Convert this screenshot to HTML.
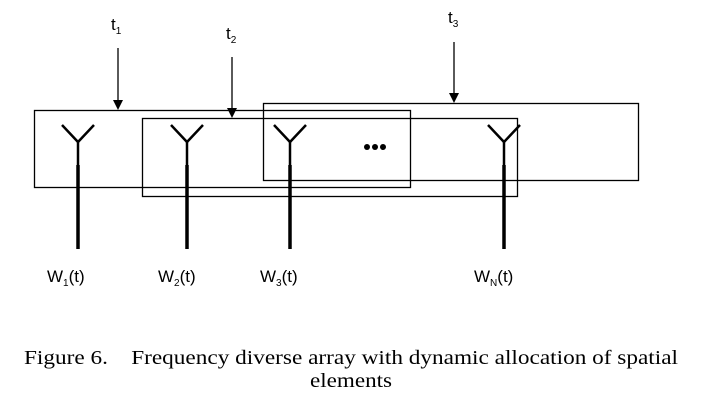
<!DOCTYPE html>
<html><head><style>body{margin:0;background:#fff;width:702px;height:413px;overflow:hidden}</style></head><body>
<svg width="702" height="413" xmlns="http://www.w3.org/2000/svg">
<g fill="none" stroke="#000" stroke-width="1.3">
<rect x="34.5" y="110.5" width="376" height="77"/>
<rect x="142.5" y="118.5" width="375" height="78"/>
<rect x="263.5" y="103.5" width="375" height="77"/>
<line x1="118" y1="48" x2="118" y2="102"/>
<line x1="232" y1="57" x2="232" y2="110"/>
<line x1="454" y1="42" x2="454" y2="95"/>
</g>
<g fill="#000">
<polygon points="113,100 123,100 118,110"/>
<polygon points="227,108 237,108 232,118"/>
<polygon points="449,93 459,93 454,103"/>
<circle cx="367" cy="147" r="3"/><circle cx="375" cy="147" r="3"/><circle cx="383" cy="147" r="3"/>
</g>
<g stroke="#000" fill="none">
<g stroke-width="2.5">
<path d="M62,125 L78,142 L94,125"/><path d="M171,125 L187,142 L203,125"/><path d="M274,125 L290,142 L306,125"/><path d="M488,125 L504,142 L520,125"/>
<line x1="78" y1="141" x2="78" y2="165"/><line x1="187" y1="141" x2="187" y2="165"/><line x1="290" y1="141" x2="290" y2="165"/><line x1="504" y1="141" x2="504" y2="165"/>
</g>
<g stroke-width="3.5">
<line x1="78" y1="165" x2="78" y2="249"/><line x1="187" y1="165" x2="187" y2="249"/><line x1="290" y1="165" x2="290" y2="249"/><line x1="504" y1="165" x2="504" y2="249"/>
</g>
</g>
<g font-family="Liberation Sans, sans-serif" font-size="17" fill="#000">
<text x="111" y="30">t<tspan font-size="10" dy="4">1</tspan></text>
<text x="226" y="39">t<tspan font-size="10" dy="4">2</tspan></text>
<text x="448" y="23">t<tspan font-size="10" dy="4">3</tspan></text>
<text x="47" y="282">W<tspan font-size="10" dy="4">1</tspan><tspan dy="-4">(t)</tspan></text>
<text x="158" y="282">W<tspan font-size="10" dy="4">2</tspan><tspan dy="-4">(t)</tspan></text>
<text x="260" y="282">W<tspan font-size="10" dy="4">3</tspan><tspan dy="-4">(t)</tspan></text>
<text x="474" y="282">W<tspan font-size="10" dy="4">N</tspan><tspan dy="-4">(t)</tspan></text>
</g>
<g font-family="Liberation Serif, serif" font-size="20" fill="#000">
<text x="24" y="364" textLength="654" lengthAdjust="spacingAndGlyphs">Figure 6.&#160;&#160;&#160; Frequency diverse array with dynamic allocation of spatial</text>
<text x="310" y="387" textLength="82" lengthAdjust="spacingAndGlyphs">elements</text>
</g>
</svg>
</body></html>
